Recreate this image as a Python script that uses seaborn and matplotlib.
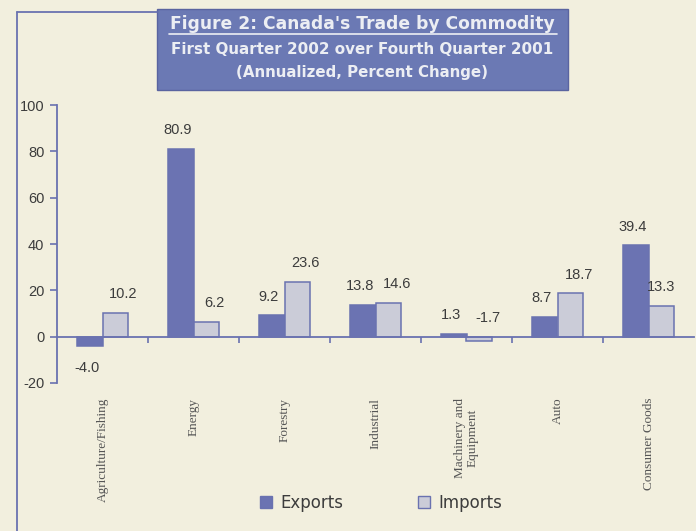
import matplotlib
matplotlib.use('Agg')
import matplotlib.pyplot as plt
import matplotlib.patches as mpatches
from matplotlib.lines import Line2D
import numpy as np
import pandas as pd
import seaborn as sns

# chart data
categories = ['Agriculture/Fishing', 'Energy', 'Forestry', 'Industrial',
              'Machinery and\nEquipment', 'Auto', 'Consumer Goods']
exports = [-4.0, 80.9, 9.2, 13.8, 1.3, 8.7, 39.4]
imports = [10.2, 6.2, 23.6, 14.6, -1.7, 18.7, 13.3]
series = ['Exports', 'Imports']
y_ticks = [-20, 0, 20, 40, 60, 80, 100]

bg = '#f2efde'
blue = '#6b73b2'
light = '#cbccd8'
axis_col = '#6a72b0'
text_col = '#3c3c3c'

df = pd.DataFrame({
    'category': categories * 2,
    'series': ['Exports'] * len(categories) + ['Imports'] * len(categories),
    'value': exports + imports,
})

sns.set_style('white')
fig = plt.figure(figsize=(6.96, 5.31), dpi=100)
fig.patch.set_facecolor(bg)
ax = fig.add_axes([57 / 696, 1 - 383 / 531, 637 / 696, 278 / 531])
ax.set_facecolor(bg)

sns.barplot(data=df, x='category', y='value', hue='series', hue_order=series,
            order=categories, palette=[blue, light], width=0.56, ax=ax,
            saturation=1, edgecolor=axis_col, linewidth=1.1, legend=False)

# value labels (imports labels sit a little right of their bars, as in the source)
shift = {0: -2, 1: 6}
for i, (cont, vals) in enumerate(zip(ax.containers, [exports, imports])):
    for bar, v in zip(cont, vals):
        cx = bar.get_x() + bar.get_width() / 2
        dx = 0 if v == 13.3 else shift[i]
        if v <= -4:
            ax.annotate(f'{v:.1f}', (cx, v), xytext=(dx, -11), textcoords='offset points',
                        ha='center', va='top', fontsize=10.5, color=text_col,
                        family='Liberation Sans')
        else:
            ax.annotate(f'{v:.1f}', (cx, max(v, 0)), xytext=(dx, 8.5), textcoords='offset points',
                        ha='center', va='bottom', fontsize=10.5, color=text_col,
                        family='Liberation Sans')

ax.set_ylim(-20, 100)
ax.set_xlim(-0.5, len(categories) - 0.5)
ax.set_yticks(y_ticks)
ax.set_yticklabels([str(t) for t in y_ticks], fontsize=10.5, color=text_col,
                   family='Liberation Sans')
ax.set_xlabel('')
ax.set_ylabel('')

for s in ['top', 'right']:
    ax.spines[s].set_visible(False)
ax.spines['left'].set_color(axis_col)
ax.spines['left'].set_linewidth(1.3)
ax.spines['bottom'].set_position(('data', 0))
ax.spines['bottom'].set_color(axis_col)
ax.spines['bottom'].set_linewidth(1.3)

ax.tick_params(axis='y', direction='out', length=5, width=1.2, color=axis_col, pad=4, left=True)
ax.set_xticks(range(len(categories)))
ax.set_xticklabels(categories, rotation=90, fontsize=9.5, color='#555555',
                   family='Liberation Serif', ha='center', va='top', linespacing=1.1)
ax.tick_params(axis='x', which='major', length=0, pad=44)
ax.set_xticks(np.arange(0.5, len(categories) - 0.5, 1), minor=True)
ax.tick_params(axis='x', which='minor', direction='out', length=4, width=1.2,
               color=axis_col, bottom=True)

# frame lines of the figure box
fig.add_artist(Line2D([17 / 696, 17 / 696], [0, 1 - 12 / 531], color=axis_col, lw=1.3))
fig.add_artist(Line2D([17 / 696, 157 / 696], [1 - 12 / 531, 1 - 12 / 531], color=axis_col, lw=1.3))

# title box
fig.add_artist(mpatches.Rectangle((157 / 696, 1 - 90 / 531), 411 / 696, 81 / 531,
                                  facecolor='#6b79b4', edgecolor='#5a64a0', lw=1,
                                  transform=fig.transFigure))
tx = 362 / 696
title_col = '#eceef3'
fig.text(tx, 1 - 24 / 531, "Figure 2: Canada's Trade by Commodity", ha='center', va='center',
         fontsize=12.3, fontweight='bold', color=title_col, family='DejaVu Sans')
fig.add_artist(Line2D([169 / 696, 557 / 696], [1 - 34 / 531, 1 - 34 / 531], color=title_col, lw=1.2))
fig.text(tx, 1 - 50 / 531, 'First Quarter 2002 over Fourth Quarter 2001', ha='center', va='center',
         fontsize=10.9, fontweight='bold', color=title_col, family='DejaVu Sans')
fig.text(tx, 1 - 73 / 531, '(Annualized, Percent Change)', ha='center', va='center',
         fontsize=10.8, fontweight='bold', color=title_col, family='DejaVu Sans')

# legend
handles = [mpatches.Patch(facecolor=blue, edgecolor=axis_col, label='Exports'),
           mpatches.Patch(facecolor=light, edgecolor=axis_col, label='Imports')]
fig.legend(handles=handles, loc='center', bbox_to_anchor=(381 / 696, 1 - 503 / 531), ncol=2,
           frameon=False, fontsize=12, handlelength=0.7, handleheight=0.7,
           handletextpad=0.5, columnspacing=4.5, labelcolor=text_col)

fig.savefig('out.png', dpi=100, facecolor=bg)
